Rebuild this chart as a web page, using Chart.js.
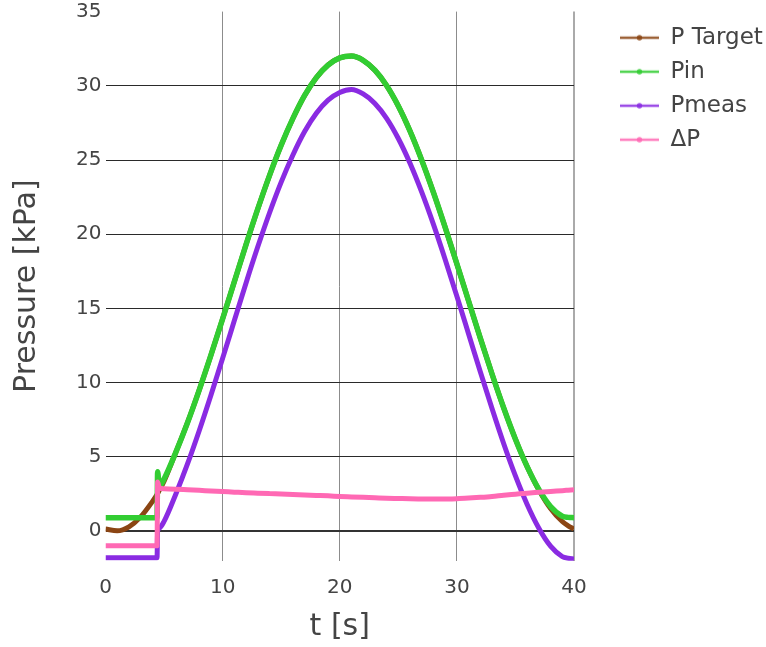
<!DOCTYPE html>
<html>
<head>
<meta charset="utf-8">
<script src="https://cdn.jsdelivr.net/npm/chart.js@4.4.1/dist/chart.umd.min.js"></script>
<style>
  html, body { margin: 0; padding: 0; background: #ffffff; }
  #wrap { width: 766px; height: 647px; position: relative; }
</style>
</head>
<body>
<div id="wrap"><canvas id="c" width="766" height="647"></canvas></div>
<script>
// ---- Data ----
const seriesNames = ["P Target", "Pin", "Pmeas", "\u0394P"];
const tTimes = [0, 1, 2, 3, 4, 4.4, 4.45, 4.6, 5, 6, 7, 8, 9, 10, 11, 12, 13, 14, 15, 16, 17, 18, 19, 20,
  21, 22, 23, 24, 25, 26, 27, 28, 29, 30, 31, 32, 33, 34, 35, 36, 37, 38, 39, 39.5, 40];
const pTarget = [0.13, 0.01, 0.28, 0.95, 1.98, 2.45, 2.52, 2.75, 3.36, 5.3, 7.3, 9.5, 11.85, 14.3, 16.8, 19.3, 21.7, 23.95,
  26.0, 27.8, 29.35, 30.55, 31.4, 31.88, 32.0, 31.72, 31.05, 30.02, 28.64, 26.95, 24.99, 22.81, 20.46, 18.0,
  15.5, 13.0, 10.58, 8.29, 6.19, 4.34, 2.77, 1.52, 0.64, 0.35, 0.13];
const pIn = [0.9, 0.9, 0.9, 0.9, 0.9, 0.9, 4.0, 3.0, 3.5, 5.3, 7.3, 9.5, 11.85, 14.3, 16.8, 19.3, 21.7, 23.95,
  26.0, 27.8, 29.35, 30.55, 31.4, 31.88, 32.0, 31.72, 31.05, 30.02, 28.64, 26.95, 24.99, 22.81, 20.46, 18.0,
  15.5, 13.0, 10.58, 8.29, 6.19, 4.34, 2.8, 1.65, 1.0, 0.92, 0.9];
const pMeas = [-1.8, -1.8, -1.8, -1.8, -1.8, -1.8, 0.0, 0.2, 0.65, 2.48, 4.52, 6.76, 9.15, 11.64, 14.18, 16.72, 19.15, 21.43,
  23.51, 25.34, 26.92, 28.15, 29.03, 29.55, 29.75, 29.45, 28.81, 27.81, 26.45, 24.78, 22.83, 20.66, 18.3, 15.82,
  13.28, 10.73, 8.25, 5.88, 3.71, 1.79, 0.19, -1.02, -1.72, -1.83, -1.88];
const deltaP = [-1.0, -1.0, -1.0, -1.0, -1.0, -1.0, 3.3, 2.9, 2.85, 2.82, 2.78, 2.74, 2.7, 2.66, 2.62, 2.58, 2.55, 2.52,
  2.49, 2.46, 2.43, 2.4, 2.37, 2.33, 2.3, 2.27, 2.24, 2.21, 2.19, 2.17, 2.16, 2.15, 2.16, 2.18,
  2.22, 2.27, 2.33, 2.41, 2.48, 2.55, 2.61, 2.67, 2.72, 2.75, 2.78];
const xTickValues = [0, 10, 20, 30, 40];
const yTickValues = [0, 5, 10, 15, 20, 25, 30, 35];
const seriesColors = ["#8B4513", "#32CD32", "#8A2BE2", "#FF69B4"];

// ---- Helpers ----
function legendSymbol(color) {
  const c = document.createElement('canvas');
  c.width = 74; c.height = 10;
  const g = c.getContext('2d');
  g.globalAlpha = 0.85;
  g.strokeStyle = color; g.lineWidth = 2.5;
  g.beginPath(); g.moveTo(35, 5); g.lineTo(74, 5); g.stroke();
  g.fillStyle = color;
  g.beginPath(); g.arc(54.5, 5, 2.7, 0, Math.PI * 2); g.fill();
  return c;
}
function toPoints(arr) { return tTimes.map((t, i) => ({ x: t, y: arr[i] })); }

const seriesValues = [pTarget, pIn, pMeas, deltaP];
const drawOrder = [4, 3, 2, 1];
const widths = [5, 5.5, 5, 5];

Chart.defaults.font.family = "'DejaVu Sans', Verdana, sans-serif";
Chart.defaults.color = '#444';

const datasets = seriesNames.map((name, i) => ({
  label: name,
  data: toPoints(seriesValues[i]),
  borderColor: seriesColors[i],
  backgroundColor: seriesColors[i],
  borderWidth: widths[i],
  pointRadius: 0,
  pointHoverRadius: 0,
  pointStyle: legendSymbol(seriesColors[i]),
  cubicInterpolationMode: 'monotone',
  fill: false,
  order: drawOrder[i]
}));

new Chart(document.getElementById('c'), {
  type: 'line',
  data: { datasets },
  options: {
    responsive: false,
    animation: false,
    layout: { padding: 0 },
    plugins: {
      tooltip: { enabled: false },
      legend: {
        display: true,
        position: 'right',
        align: 'start',
        fullSize: false,
        maxWidth: 192,
        title: { display: true, text: '', padding: 0, font: { size: 3 } },
        labels: {
          sort: (a, b) => a.datasetIndex - b.datasetIndex,
          usePointStyle: true,
          pointStyleWidth: 74,
          padding: 11,
          color: '#444',
          font: { size: 23 }
        }
      }
    },
    scales: {
      x: {
        type: 'linear',
        min: 0, max: 40,
        afterFit: (s) => { s.height = 86.3; },
        afterBuildTicks: (s) => { s.ticks = xTickValues.map(v => ({ value: v })); },
        border: { display: false },
        grid: {
          drawTicks: false,
          color: (ctx) => ctx.tick && ctx.tick.value === 0 ? 'rgba(0,0,0,0)' : (ctx.tick && ctx.tick.value === 40 ? '#aaaaaa' : '#8c8c8c'),
          lineWidth: (ctx) => ctx.tick && ctx.tick.value === 40 ? 2 : 1
        },
        ticks: { padding: 15, color: '#444', font: { size: 20 }, maxRotation: 0 },
        title: { display: true, text: 't [s]', color: '#444', font: { size: 30 }, padding: { top: 0, bottom: 2 } }
      },
      y: {
        min: -2, max: 35,
        afterFit: (s) => { s.width = 105.5; s.paddingTop = 11.6; s.paddingBottom = 0; },
        afterBuildTicks: (s) => { s.ticks = yTickValues.map(v => ({ value: v })); },
        border: { display: false },
        grid: {
          drawTicks: false,
          color: (ctx) => ctx.tick && ctx.tick.value === 35 ? 'rgba(0,0,0,0)' : (ctx.tick && ctx.tick.value === 0 ? '#333333' : '#2a2a2a'),
          lineWidth: (ctx) => ctx.tick && ctx.tick.value === 0 ? 2 : 1
        },
        ticks: { padding: 4, color: '#444', font: { size: 20 } },
        title: { display: true, text: 'Pressure [kPa]', color: '#444', font: { size: 30 }, padding: { top: 9, bottom: 0 } }
      }
    }
  }
});
</script>
</body>
</html>
